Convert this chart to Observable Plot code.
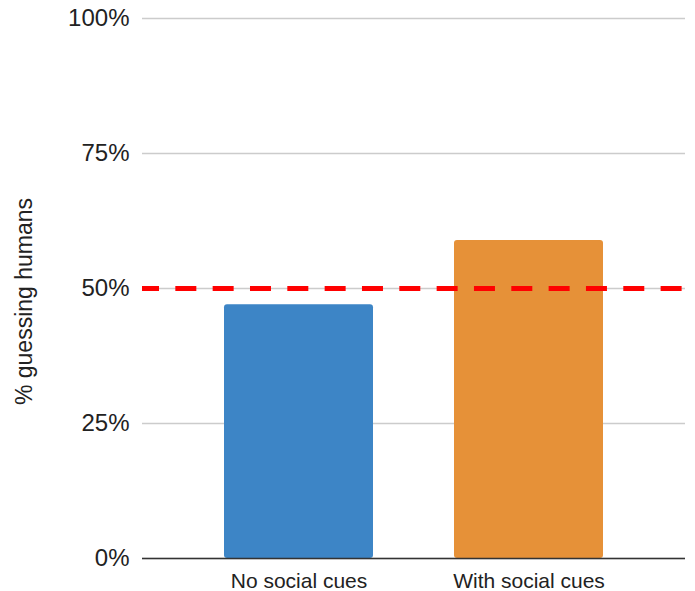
<!DOCTYPE html>
<html>
<head>
<meta charset="utf-8">
<script src="https://cdn.jsdelivr.net/npm/d3@7"></script>
<script src="https://cdn.jsdelivr.net/npm/@observablehq/plot@0.6"></script>
<style>
  html, body { margin: 0; padding: 0; background: #fff; }
</style>
</head>
<body>
<div id="chart"></div>
<script>
const categories = ["No social cues", "With social cues"];
const values = [47.0, 58.9];
const barColors = ["#3d85c6", "#e69138"];
const yTicks = [0, 25, 50, 75, 100];
const referenceLevel = [50];
const yLabel = "% guessing humans";

const data = categories.map((c, i) => ({category: c, value: values[i], color: barColors[i]}));

const chart = Plot.plot({
  width: 695,
  height: 591,
  marginLeft: 142,
  marginRight: 10,
  marginTop: 18,
  marginBottom: 33,
  style: {fontFamily: "'Liberation Sans', Arial, sans-serif", color: "#222", background: "#fff"},
  x: {domain: categories, paddingInner: 0.352, paddingOuter: 0.356},
  y: {domain: [0, 100]},
  marks: [
    Plot.gridY(yTicks, {stroke: "#cccccc", strokeOpacity: 1, strokeWidth: 1.5}),
    Plot.barY(data, {x: "category", y: "value", fill: "color", rx: 3}),
    Plot.ruleY([0], {stroke: "#333", strokeWidth: 1.5}),
    Plot.ruleY(referenceLevel, {stroke: "#ff0000", strokeWidth: 5, strokeDasharray: "21,16.33", strokeDashoffset: 4}),
    Plot.axisY({ticks: yTicks, tickSize: 0, tickPadding: 13, fontSize: 24, tickFormat: d => d + "%", label: null}),
    Plot.axisX({tickSize: 0, tickPadding: 15, fontSize: 21, label: null}),
    Plot.text([yLabel], {frameAnchor: "left", textAnchor: "middle", rotate: -90, dx: -118, dy: 13, fontSize: 23, fill: "#222"})
  ]
});
document.getElementById("chart").appendChild(chart);
</script>
</body>
</html>
